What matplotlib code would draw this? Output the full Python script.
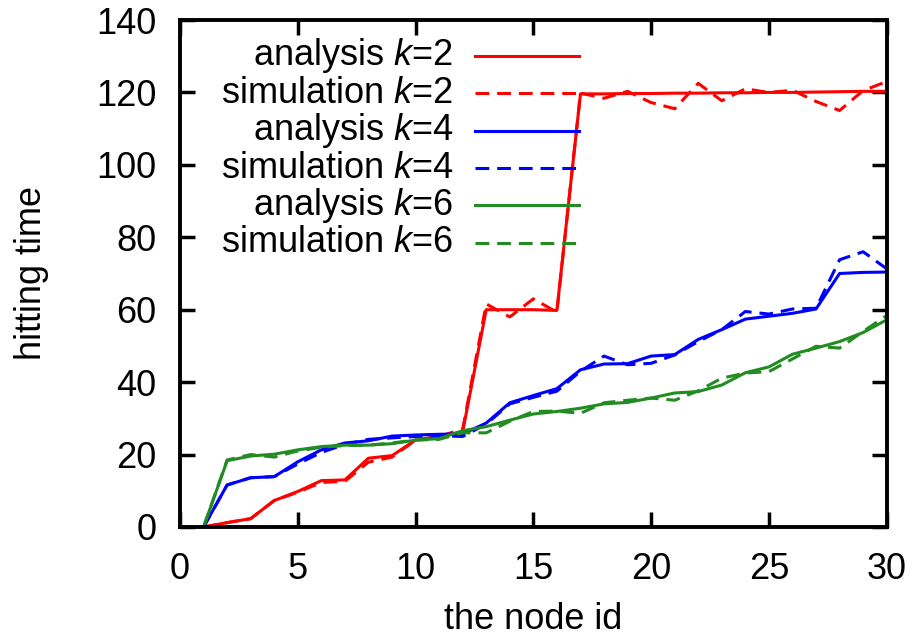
import matplotlib
matplotlib.use("Agg")
import matplotlib.pyplot as plt

plt.rcParams['font.family'] = ['Liberation Sans', 'DejaVu Sans']
plt.rcParams['mathtext.fontset'] = 'custom'
plt.rcParams['mathtext.rm'] = 'Liberation Sans'
plt.rcParams['mathtext.it'] = 'Liberation Sans:italic'

node_id = list(range(1, 31))

ana_k2 = [0, 1.2, 2.3, 7.3, 9.8, 12.8, 13, 19, 19.7, 24, 25, 26.3, 60, 60, 60, 59.8,
          119.6, 119.6, 119.7, 119.7, 119.8, 119.8, 119.9, 119.9, 120, 120, 120.1, 120.2, 120.3, 120.3]
sim_k2 = [0, 1.2, 2.3, 7.3, 9.6, 12.3, 12.6, 17.9, 19.3, 24, 25, 27, 61.6, 58, 63, 59.3,
          119.8, 118.4, 120.3, 117.2, 115.5, 122.5, 117.7, 121, 120, 120.6, 117.5, 115, 120.5, 123]

ana_k4 = [0, 11.6, 13.6, 13.9, 18, 21.3, 23.2, 23.8, 25.1, 25.4, 25.6, 25.7, 28.7, 34.3, 36.3, 38.2,
          43.4, 45, 45.1, 47.2, 47.6, 51.8, 54.5, 57.4, 58.2, 59, 60.2, 70, 70.3, 70.4]
sim_k4 = [0, 11.6, 13.6, 13.9, 17.4, 20.6, 22.8, 24.2, 24.6, 25, 25.2, 25, 28.4, 34, 35.8, 37.5,
          43, 47.2, 44.8, 45.2, 47.5, 51.2, 54.5, 59.5, 58.8, 60.2, 60.4, 73.8, 76, 71.3]

ana_k6 = [0, 18.3, 19.6, 20.1, 21.3, 22.2, 22.6, 22.6, 23, 24, 24.4, 26.6, 27.7, 29.5, 31.2, 31.9,
          32.8, 34, 34.4, 35.6, 37, 37.4, 39.2, 42.6, 44.2, 47.7, 49.4, 51.2, 53.7, 57.2]
sim_k6 = [0, 18.5, 20, 19.3, 21, 22, 22.5, 22.6, 23.2, 24, 24.2, 26, 26, 29.2, 31.9, 32,
          31.4, 34.3, 35, 35.6, 35, 37.6, 41.1, 42.5, 42.9, 46.4, 49.9, 49.4, 54, 58.4]

series = [
    ("analysis $k$=2", ana_k2, "#ff0000", "-"),
    ("simulation $k$=2", sim_k2, "#ff0000", (0, (4.5, 2.6))),
    ("analysis $k$=4", ana_k4, "#0000ff", "-"),
    ("simulation $k$=4", sim_k4, "#0000ff", (0, (4.5, 2.6))),
    ("analysis $k$=6", ana_k6, "#228b22", "-"),
    ("simulation $k$=6", sim_k6, "#228b22", (0, (4.5, 2.6))),
]

FS = 26

fig = plt.figure(figsize=(9.16, 6.39), dpi=100)
ax = fig.add_axes([0.1965, 0.1753, 0.7715, 0.7934])

for label, vals, color, ls in series:
    ax.plot(node_id, vals, color=color, linestyle=ls, linewidth=2.2)

# gnuplot-style key: text right-aligned, sample line on the right
for i, (label, vals, color, ls) in enumerate(series):
    y = 0.929 - i * 0.0737
    ax.text(0.387, y, label, transform=ax.transAxes, ha='right', va='center', fontsize=FS)
    ax.plot([0.417, 0.565], [y, y], transform=ax.transAxes, color=color,
            linestyle=ls, linewidth=2.2)

ax.set_xlim(0, 30)
ax.set_ylim(0, 140)
ax.set_xticks(range(0, 31, 5))
ax.set_yticks(range(0, 141, 20))
ax.tick_params(direction='in', length=11, width=2.5, labelsize=FS,
               top=True, right=True, pad=18)
ax.tick_params(axis='y', pad=17)
for sp in ax.spines.values():
    sp.set_linewidth(2.8)

ax.set_xlabel("the node id", fontsize=FS)
ax.set_ylabel("hitting time", fontsize=FS)
ax.xaxis.set_label_coords(0.5, -0.148)
ax.yaxis.set_label_coords(-0.185, 0.5)

fig.savefig("out.png", dpi=100)
